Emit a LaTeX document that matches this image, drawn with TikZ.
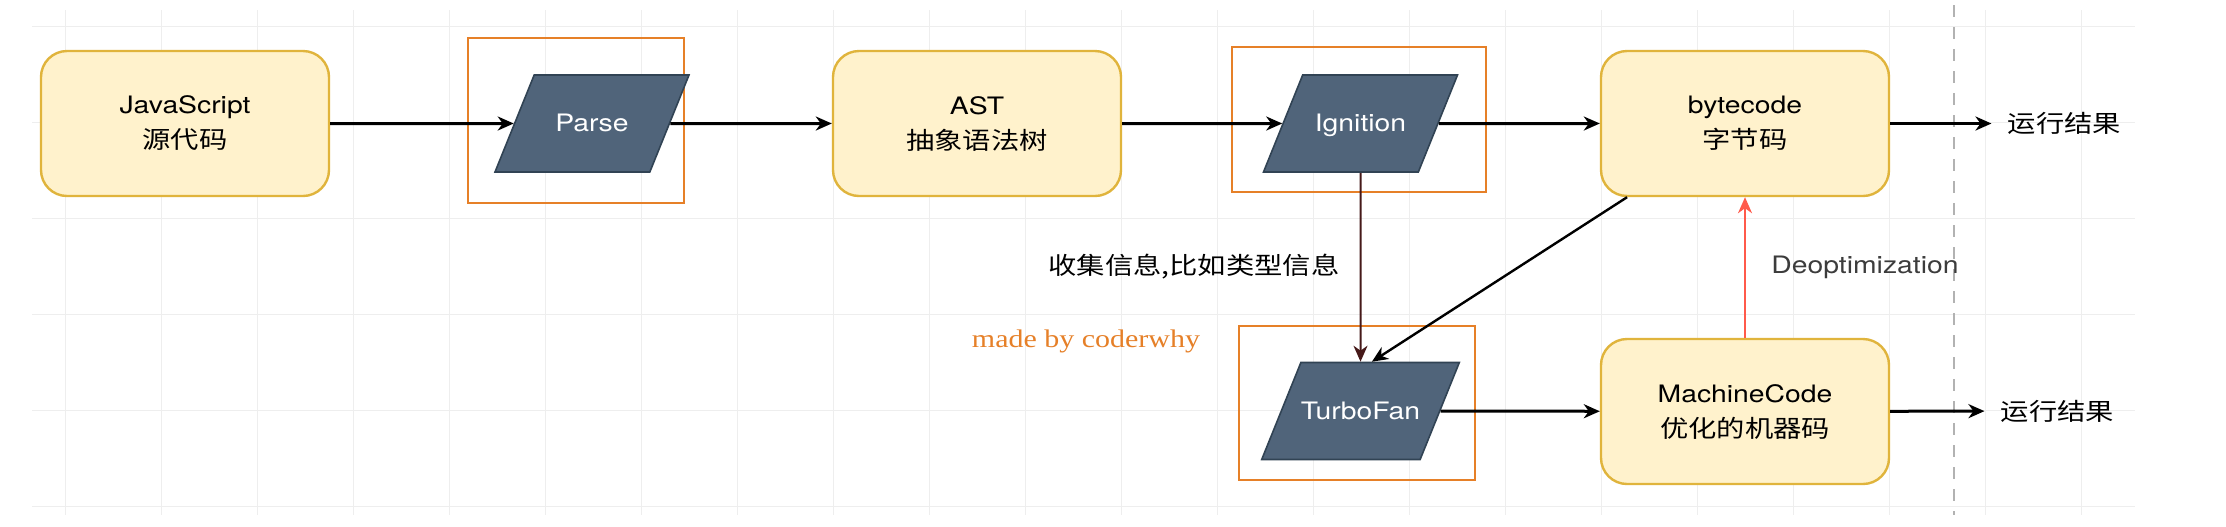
\documentclass[tikz,border=0pt]{standalone}
\usepackage{fontspec}
\setmainfont{TeX Gyre Heros}[FakeStretch=1.18]
\newfontfamily\cjk{Noto Sans CJK SC}[FakeStretch=1.18]
\newfontfamily\wm{Liberation Serif}[FakeStretch=1.18]
\usetikzlibrary{shapes.geometric,arrows.meta}
\newcommand{\pu}{0.5pt}
\definecolor{boxfill}{RGB}{255,242,204}
\definecolor{boxline}{RGB}{224,180,60}
\definecolor{parafill}{RGB}{80,100,122}
\definecolor{paraline}{RGB}{49,67,84}
\definecolor{hiorange}{RGB}{230,128,40}
\definecolor{deoptred}{RGB}{255,90,75}
\definecolor{infoline}{RGB}{70,25,25}
\definecolor{deoptgray}{RGB}{60,60,60}
\definecolor{gridgray}{RGB}{238,238,238}

\begin{document}
\begin{tikzpicture}[x=\pu, y=-\pu, font=\fontsize{12}{17.5}\selectfont,
    ybox/.style={draw=boxline, fill=boxfill, line width=1.2pt, rounded corners=13pt, minimum width=288*\pu, minimum height=145*\pu, align=center, inner sep=0pt},
    para/.style={trapezium, trapezium left angle=68, trapezium right angle=112, trapezium stretches body, draw=paraline, fill=parafill, line width=0.8pt, minimum width=194*\pu, text height=10pt, text depth=2pt, inner xsep=0pt, inner ysep=18.25pt, text=white},
    hilite/.style={draw=hiorange, line width=1.2pt, inner sep=0pt},
    flow/.style={-{Stealth[length=8pt, width=7pt, inset=2.5pt]}, line width=1.5pt},
    res/.style={inner sep=8pt},
    gridline/.style={gridgray, line width=0.5pt}]
    \fill[white] (0,0) rectangle (2226,526);
    \useasboundingbox (0,0) rectangle (2226,526);

    % background grid
    \foreach \gx in {65,161,...,2081} \draw[gridline] (\gx,10) -- (\gx,515);
    \foreach \gy in {26,122,...,506} \draw[gridline] (32,\gy) -- (2135,\gy);
    \draw[gray!60, line width=0.8pt, dash pattern=on 6pt off 5pt] (1954,5) -- (1954,515);

    % orange frames
    \node[hilite, minimum width=216*\pu, minimum height=165*\pu] (parse-frame) at (576,120.5) {};
    \node[hilite, minimum width=254*\pu, minimum height=145*\pu] (ign-frame) at (1359,119.5) {};
    \node[hilite, minimum width=236*\pu, minimum height=154*\pu] (turbo-frame) at (1357,403) {};

    % top row
    \node[ybox] (js) at (185,123.5) {JavaScript\\{\cjk 源代码}};
    \node[para] (parse) at (592,123.5) {Parse};
    \node[ybox] (ast) at (977,123.5) {AST\\{\cjk 抽象语法树}};
    \node[para] (ign) at (1360.5,123.5) {Ignition};
    \node[ybox] (byte) at (1745,123.5) {bytecode\\{\cjk 字节码}};
    \node[res] (res-top) at (2064.5,123.5) {\cjk 运行结果};

    % bottom row
    \node[para] (turbo) at (1360.5,411) {TurboFan};
    \node[ybox] (mc) at (1745,411.5) {MachineCode\\{\cjk 优化的机器码}};
    \node[res] (res-bot) at (2057.5,411) {\cjk 运行结果};

    % labels
    \node (info) at (1194,267) {\cjk 收集信息,比如类型信息};
    \node[text=hiorange, font=\fontsize{12.7}{15}\selectfont\wm] (mark) at (1086,341) {made by coderwhy};
    \node[text=deoptgray, anchor=west, inner sep=0pt] (deopt) at (1771,267) {Deoptimization};

    % connectors
    \draw[flow] (js) -- (parse.west);
    \draw[flow] (parse.east) -- (ast);
    \draw[flow] (ast) -- (ign.west);
    \draw[flow] (ign.east) -- (byte);
    \draw[flow] (byte) -- (res-top);
    \draw[flow, line width=1pt, infoline] (ign.south) -- (turbo.north);
    \draw[flow, line width=1.2pt] (byte.212) -- (turbo.77);
    \draw[flow] (turbo.east) -- (mc);
    \draw[flow] (mc) -- (res-bot);
    \draw[flow, line width=1pt, deoptred] (mc) -- (byte);
\end{tikzpicture}
\end{document}
